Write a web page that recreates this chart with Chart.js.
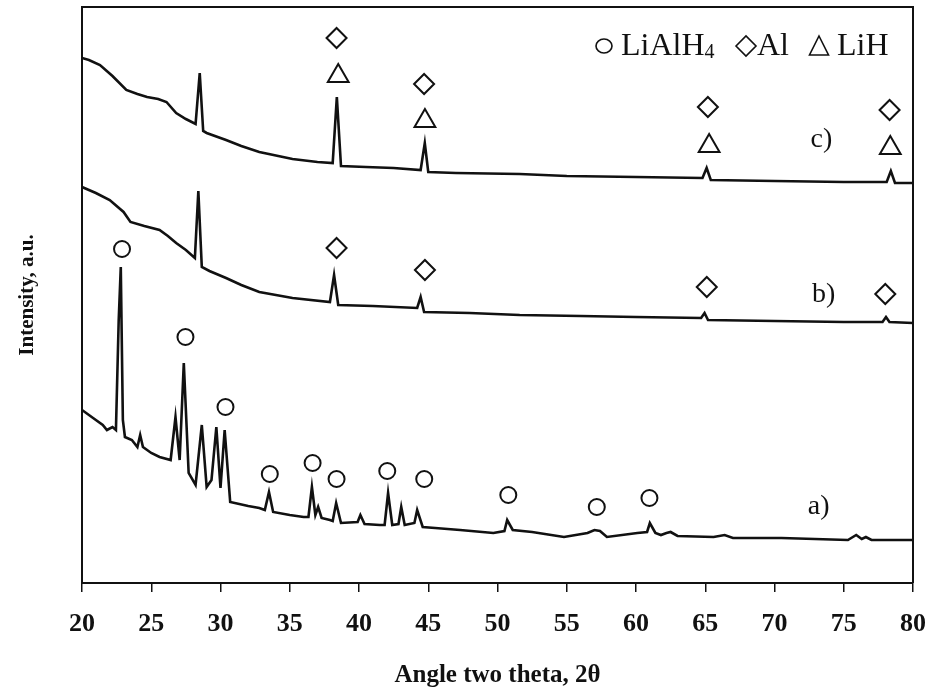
<!DOCTYPE html>
<html>
<head>
<meta charset="utf-8">
<script src="https://cdn.jsdelivr.net/npm/chart.js@4.4.0/dist/chart.umd.min.js"></script>
<style>
  body { margin: 0; background: #fff; }
</style>
</head>
<body>
<canvas id="xrd" width="934" height="691"></canvas>
<script>
// XRD traces, angle (2θ) and intensity (a.u., offset stacked)
const angleC = [20.0, 20.5, 21.3, 22.2, 23.2, 24.0, 24.7, 25.5, 26.1, 26.8, 27.5, 28.2, 28.5, 28.75, 29.0, 30.4, 31.5, 32.8, 35.2, 37.0, 38.1, 38.4, 38.7, 40.5, 42.5, 44.45, 44.75, 45.0, 47.0, 51.6, 55.0, 60.0, 64.8, 65.1, 65.4, 70.0, 75.0, 78.1, 78.4, 78.7, 80.0];
const intC  = [525, 523, 518, 507, 493, 489, 486, 484, 481, 470, 464, 459, 510, 452, 450, 443, 437, 431, 424, 421, 420, 486, 417, 416, 415, 413, 440, 411, 410, 409, 407, 406, 405, 415, 403, 402, 401, 401, 412, 400, 400];

const angleB = [20.0, 21.0, 22.0, 23.0, 23.5, 24.5, 25.6, 26.2, 26.8, 27.5, 28.15, 28.4, 28.65, 29.2, 30.4, 31.5, 32.8, 35.2, 37.9, 38.2, 38.5, 41.0, 44.2, 44.45, 44.7, 48.0, 51.6, 56.0, 60.0, 64.7, 64.95, 65.2, 70.0, 75.0, 77.8, 78.05, 78.3, 80.0];
const intB  = [396, 390, 383, 371, 361, 357, 353, 347, 340, 333, 325, 392, 316, 312, 305, 298, 291, 285, 281, 308, 278, 277, 275, 286, 271, 270, 268, 267, 266, 265, 270, 263, 262, 261, 261, 266, 261, 260];

const angleA = [20.0, 20.8, 21.5, 21.8, 22.2, 22.45, 22.65, 22.8, 22.95, 23.1, 23.6, 24.0, 24.2, 24.4, 25.0, 25.6, 26.4, 26.75, 27.05, 27.35, 27.7, 28.2, 28.65, 29.0, 29.35, 29.7, 30.0, 30.3, 30.7, 32.0, 32.8, 33.2, 33.5, 33.8, 35.0, 36.0, 36.35, 36.6, 36.85, 37.05, 37.3, 37.9, 38.1, 38.35, 38.7, 39.9, 40.1, 40.4, 41.5, 41.85, 42.1, 42.4, 42.85, 43.05, 43.3, 44.0, 44.2, 44.6, 45.5, 47.3, 49.7, 50.5, 50.7, 51.1, 52.5, 54.8, 56.5, 57.0, 57.4, 57.9, 60.1, 60.8, 61.0, 61.4, 61.8, 62.2, 62.5, 63.0, 65.6, 66.4, 67.0, 70.5, 75.3, 75.9, 76.3, 76.6, 77.0, 80.0];
const intA  = [173, 165, 158, 153, 156, 153, 263, 316, 163, 146, 143, 136, 148, 136, 130, 126, 123, 166, 123, 220, 110, 98, 158, 96, 103, 156, 95, 153, 81, 77, 75, 73, 91, 71, 68, 66, 66, 96, 68, 76, 65, 63, 62, 80, 60, 61, 68, 59, 58, 58, 90, 58, 59, 76, 58, 60, 73, 56, 55, 53, 50, 52, 63, 53, 51, 46, 50, 53, 52, 46, 50, 51, 60, 50, 48, 50, 51, 47, 46, 48, 45, 45, 43, 48, 44, 46, 43, 43];

// phase markers
const circleAngle = [22.89, 27.47, 30.36, 33.56, 36.65, 38.38, 42.04, 44.71, 50.78, 57.17, 60.97];
const circleInt   = [334, 246, 176, 109, 120, 104, 112, 104, 88, 76, 85];
const diamondAngle = [38.38, 44.76, 65.11, 78.0, 38.38, 44.7, 65.19, 78.31];
const diamondInt   = [335, 313, 296, 289, 545, 499, 476, 473];
const triangleAngle = [38.5, 44.76, 65.28, 78.36];
const triangleInt   = [507, 462, 437, 435];

// curve labels
const curveNames = ['a)', 'b)', 'c)'];
const curveAngle = [72.4, 72.7, 72.6];
const curveInt   = [76, 288, 443];

const serif = "'Liberation Serif', 'Times New Roman', serif";
const ink = '#111';

function pts(xs, ys) {
    return xs.map((x, i) => ({ x: x, y: ys[i] }));
}

function trace(xs, ys) {
    return {
        data: pts(xs, ys),
        borderColor: ink,
        borderWidth: 2.6,
        pointRadius: 0,
        tension: 0,
        fill: false
    };
}

function markers(xs, ys, style, r) {
    return {
        data: pts(xs, ys),
        showLine: false,
        pointStyle: style,
        pointRadius: r,
        pointBorderWidth: 2,
        pointBorderColor: ink,
        pointBackgroundColor: 'rgba(0,0,0,0)'
    };
}

// frame on top/right, curve labels and the phase key
const extras = {
    id: 'extras',
    afterDraw(chart) {
        const ctx = chart.ctx;
        const a = chart.chartArea;
        const xs = chart.scales.x, ys = chart.scales.y;
        ctx.save();
        ctx.strokeStyle = ink;
        ctx.lineWidth = 2;
        ctx.beginPath();
        ctx.moveTo(a.left, a.top);
        ctx.lineTo(a.right, a.top);
        ctx.lineTo(a.right, a.bottom);
        ctx.stroke();

        ctx.fillStyle = ink;
        ctx.font = '28px ' + serif;
        ctx.textAlign = 'left';
        ctx.textBaseline = 'middle';
        curveNames.forEach((t, i) => {
            ctx.fillText(t, xs.getPixelForValue(curveAngle[i]), ys.getPixelForValue(curveInt[i]));
        });

        // key
        const base = a.top + 48;
        const mid = a.top + 39;
        ctx.lineWidth = 1.6;
        ctx.textBaseline = 'alphabetic';
        ctx.font = '32px ' + serif;
        let x0 = a.right - 309;
        ctx.beginPath();
        ctx.ellipse(x0, mid, 8, 7, 0, 0, Math.PI * 2);
        ctx.stroke();
        ctx.fillText('LiAlH', x0 + 17, base);
        let w = ctx.measureText('LiAlH').width;
        ctx.font = '20px ' + serif;
        ctx.fillText('4', x0 + 17 + w, base + 3);
        let xd = a.right - 167;
        ctx.beginPath();
        ctx.moveTo(xd - 10, mid);
        ctx.lineTo(xd, mid - 10);
        ctx.lineTo(xd + 10, mid);
        ctx.lineTo(xd, mid + 10);
        ctx.closePath();
        ctx.stroke();
        ctx.font = '32px ' + serif;
        ctx.fillText('Al', xd + 11, base);
        let xt = a.right - 94;
        ctx.beginPath();
        ctx.moveTo(xt, mid - 10);
        ctx.lineTo(xt + 9.5, mid + 9);
        ctx.lineTo(xt - 9.5, mid + 9);
        ctx.closePath();
        ctx.stroke();
        ctx.fillText('LiH', xt + 18, base);
        ctx.restore();
    }
};

new Chart(document.getElementById('xrd'), {
    type: 'line',
    data: {
        datasets: [
            trace(angleA, intA),
            trace(angleB, intB),
            trace(angleC, intC),
            markers(circleAngle, circleInt, 'circle', 8),
            markers(diamondAngle, diamondInt, 'rectRot', 10),
            markers(triangleAngle, triangleInt, 'triangle', 12)
        ]
    },
    options: {
        responsive: false,
        animation: false,
        devicePixelRatio: 1,
        layout: { autoPadding: false, padding: { top: 7, right: 21, left: 0, bottom: 0 } },
        plugins: {
            legend: { display: false },
            tooltip: { enabled: false }
        },
        scales: {
            x: {
                type: 'linear',
                min: 20,
                max: 80,
                afterFit: s => { s.height = 108; s.paddingRight = 0; s.paddingLeft = 0; },
                ticks: {
                    stepSize: 5,
                    maxRotation: 0,
                    padding: 17,
                    color: ink,
                    font: { family: serif, size: 26, weight: 'bold' }
                },
                grid: { drawOnChartArea: false, drawTicks: true, tickLength: 9, color: ink, lineWidth: 1.5 },
                border: { color: ink, width: 2 },
                title: {
                    display: true,
                    text: 'Angle two theta, 2θ',
                    color: ink,
                    padding: { top: 0, bottom: 0 },
                    font: { family: serif, size: 25, weight: 'bold' }
                }
            },
            y: {
                min: 0,
                max: 576,
                afterFit: s => { s.width = 82; },
                ticks: { display: false },
                grid: { display: false },
                border: { color: ink, width: 2 },
                title: {
                    display: true,
                    text: 'Intensity, a.u.',
                    color: ink,
                    padding: { top: 15, bottom: 0 },
                    font: { family: serif, size: 21, weight: 'bold' }
                }
            }
        }
    },
    plugins: [extras]
});
</script>
</body>
</html>
